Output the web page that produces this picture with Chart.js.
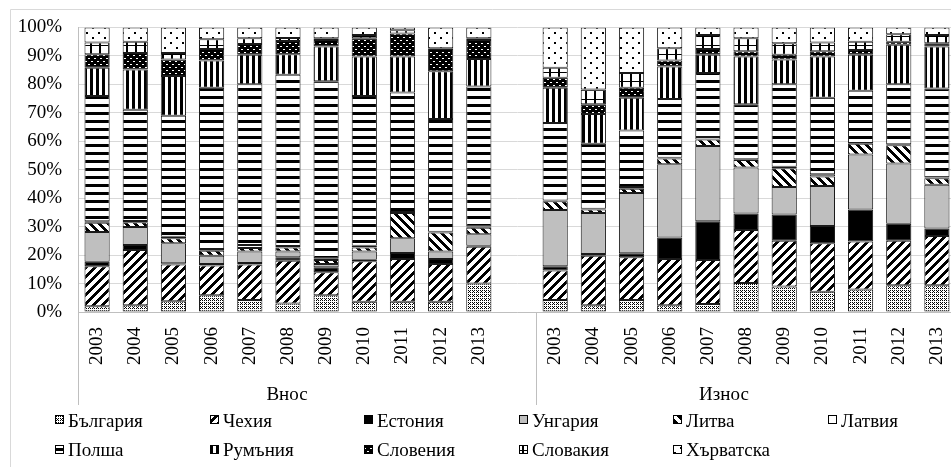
<!DOCTYPE html>
<html>
<head>
<meta charset="utf-8">
<script src="https://cdn.jsdelivr.net/npm/chart.js@4.4.0/dist/chart.umd.min.js"></script>
<style>
html,body{margin:0;padding:0;overflow:hidden;background:#fff;width:951px;height:467px}
#wrap{position:absolute;left:0;top:0;width:975px;height:467px}
</style>
</head>
<body>
<div id="wrap"><canvas id="c" width="975" height="467"></canvas></div>
<script>
// ---- data (shares in %, stacked to 100) ----
const years = ['2003','2004','2005','2006','2007','2008','2009','2010','2011','2012','2013'];
const groups = ['Внос','Износ'];
const seriesNames = ['България','Чехия','Естония','Унгария','Литва','Латвия','Полша','Румъния','Словения','Словакия','Хърватска'];
const tickLabels = ['0%','10%','20%','30%','40%','50%','60%','70%','80%','90%','100%'];

// 11 values for Внос, a blank slot, 11 values for Износ
const bulgaria  = [2.0,2.4,3.8,5.9,4.2,3.0,5.9,3.6,3.6,3.6,10.0, null, 4.2,2.4,4.2,2.4,2.8,10.2,9.0,7.1,7.9,9.4,9.4];
const czechia   = [14.1,19.4,12.9,10.4,12.5,15.0,8.1,14.2,15.0,13.3,12.9, null, 10.4,17.4,15.0,16.2,15.5,18.6,16.0,17.1,16.9,15.6,17.3];
const estonia   = [1.6,1.7,0.4,0.6,0.5,1.2,1.7,0.6,2.1,1.7,0.4, null, 1.5,0.6,1.4,7.6,13.6,5.8,9.3,6.0,11.2,6.0,2.6];
const hungary   = [10.4,6.4,7.1,2.9,4.1,2.1,1.2,2.9,5.2,2.7,4.0, null, 19.7,14.4,21.2,25.7,26.4,16.2,9.6,14.1,19.3,21.2,15.4];
const lithuania = [3.3,1.6,1.7,1.7,1.2,1.4,1.4,1.4,8.9,6.6,2.3, null, 3.1,1.2,1.5,2.0,2.3,2.6,6.6,3.3,3.8,6.4,2.3];
const latvia    = [0.5,0.5,0.5,0.6,1.0,0.5,0.6,0.6,0.3,0.3,0.4, null, 0.3,0.3,0.6,0.3,0.9,0.3,0.5,0.8,0.3,0.3,0.3];
const poland    = [44.0,39.1,42.6,56.7,56.5,60.2,62.2,52.6,42.0,39.6,49.2, null, 27.2,22.8,19.9,20.6,22.5,19.3,29.0,26.9,18.3,21.1,31.2];
const romania   = [9.9,14.1,13.9,9.6,10.4,7.2,12.2,13.9,12.7,16.8,9.7, null, 12.4,10.5,11.5,11.5,6.4,16.8,8.7,14.5,12.7,13.9,14.8];
const slovenia  = [4.8,5.8,5.8,4.0,3.8,4.6,2.3,6.4,8.1,7.8,6.7, null, 3.5,3.4,3.5,2.1,2.0,1.8,1.7,1.8,1.7,1.1,1.1];
const slovakia  = [4.1,4.0,2.3,3.4,2.0,1.1,0.6,1.1,1.1,0.3,0.6, null, 3.5,5.2,5.2,4.3,4.9,4.6,4.0,3.1,2.9,2.6,2.9];
const croatia   = [5.3,5.0,9.0,4.2,3.8,3.7,3.8,2.7,1.0,7.3,3.8, null, 14.2,21.8,16.0,7.3,2.7,3.8,5.6,5.3,5.0,2.4,2.7];

const seriesData = [bulgaria,czechia,estonia,hungary,lithuania,latvia,poland,romania,slovenia,slovakia,croatia];
const categories = [...years, '', ...years];

// ---- fill patterns ----
function tile(w,h,bg,fg,fn){
  const c=document.createElement('canvas'); c.width=w; c.height=h;
  const g=c.getContext('2d'); g.fillStyle=bg; g.fillRect(0,0,w,h); g.fillStyle=fg;
  for(let y=0;y<h;y++) for(let x=0;x<w;x++) if(fn(x,y)) g.fillRect(x,y,1,1);
  return g.createPattern(c,'repeat');
}
const fills = [
  tile(4,4,'#fff','#000',(x,y)=> (x%2===0 && y%2===0) || (x===1 && y===3)),
  tile(9,9,'#fff','#000',(x,y)=> (x+y)%9 < 4),
  '#000000',
  '#bfbfbf',
  tile(9,9,'#fff','#000',(x,y)=> (((x-y)%9)+9)%9 < 4),
  '#ffffff',
  tile(8,8,'#fff','#000',(x,y)=> y < 3),
  tile(6,6,'#fff','#000',(x,y)=> x < 3),
  tile(6,6,'#000','#fff',(x,y)=> (y===1 && (x===1||x===2)) || (y===4 && (x===4||x===5))),
  tile(9,9,'#fff','#000',(x,y)=> x < 2 || y < 1),
  tile(12,10,'#fff','#000',(x,y)=> (x>=2&&x<4&&y>=2&&y<4) || (x>=8&&x<10&&y>=7&&y<9))
];

const FONT = '"Liberation Serif", "Times New Roman", serif';

const extras = {
  id:'extras',
  afterDraw(chart){
    const ctx = chart.ctx;
    const xs = chart.scales.x;
    const ca = chart.chartArea;
    ctx.save();
    // outer frame
    ctx.strokeStyle = '#d9d9d9'; ctx.lineWidth = 1;
    ctx.beginPath(); ctx.moveTo(10.5, 467); ctx.lineTo(10.5, 9.5); ctx.lineTo(975, 9.5); ctx.stroke();
    // group separators in axis area
    ctx.strokeStyle = '#bfbfbf';
    const half = (xs.getPixelForValue(1) - xs.getPixelForValue(0)) / 2;
    const seps = [ca.left, xs.getPixelForValue(12) - half];
    seps.forEach(px => { const p = Math.round(px) + 0.5; ctx.beginPath(); ctx.moveTo(p, ca.bottom); ctx.lineTo(p, 405); ctx.stroke(); });
    // group labels
    ctx.fillStyle = '#000'; ctx.font = '19px ' + FONT; ctx.textAlign = 'center'; ctx.textBaseline = 'alphabetic';
    ctx.fillText(groups[0], 287, 400);
    ctx.fillText(groups[1], 724, 400);
    // legend
    ctx.textAlign = 'left';
    seriesNames.forEach((name, i) => {
      const row = i < 6 ? 0 : 1, col = i < 6 ? i : i - 6;
      const mx = Math.round(55 + col * 154.6), my = row === 0 ? 415 : 445;
      ctx.fillStyle = fills[i]; ctx.fillRect(mx, my, 8, 8);
      ctx.strokeStyle = '#000'; ctx.lineWidth = 1; ctx.strokeRect(mx + 0.5, my + 0.5, 8, 8);
      ctx.fillStyle = '#000';
      ctx.fillText(name, mx + 13, row === 0 ? 427 : 456);
    });
    ctx.restore();
  }
};

new Chart(document.getElementById('c').getContext('2d'), {
  type: 'bar',
  data: {
    labels: categories,
    datasets: seriesNames.map((n, i) => ({
      label: n, data: seriesData[i], backgroundColor: fills[i],
      borderColor: '#1a1a1a', borderWidth: 1, borderSkipped: false,
      categoryPercentage: 1, barPercentage: 0.66
    }))
  },
  options: {
    responsive: false, animation: false, devicePixelRatio: 1,
    layout: { padding: { left: 0, top: 24, right: 13, bottom: 0 } },
    plugins: { legend: { display: false }, tooltip: { enabled: false } },
    scales: {
      x: {
        stacked: true,
        grid: { display: false, drawTicks: false },
        border: { color: '#bfbfbf' },
        ticks: { autoSkip: false, maxRotation: 90, minRotation: 90, padding: 15, color: '#000', font: { family: FONT, size: 19 } },
        afterFit(s) { s.height = 155; }
      },
      y: {
        stacked: true, min: 0, max: 100,
        grid: { color: '#d9d9d9', drawTicks: false },
        border: { color: '#bfbfbf' },
        ticks: { stepSize: 10, padding: 16, color: '#000', font: { family: FONT, size: 19 },
                 callback: (v) => tickLabels[Math.round(v / 10)] },
        afterFit(s) { s.width = 78; }
      }
    }
  },
  plugins: [extras]
});
</script>
</body>
</html>
